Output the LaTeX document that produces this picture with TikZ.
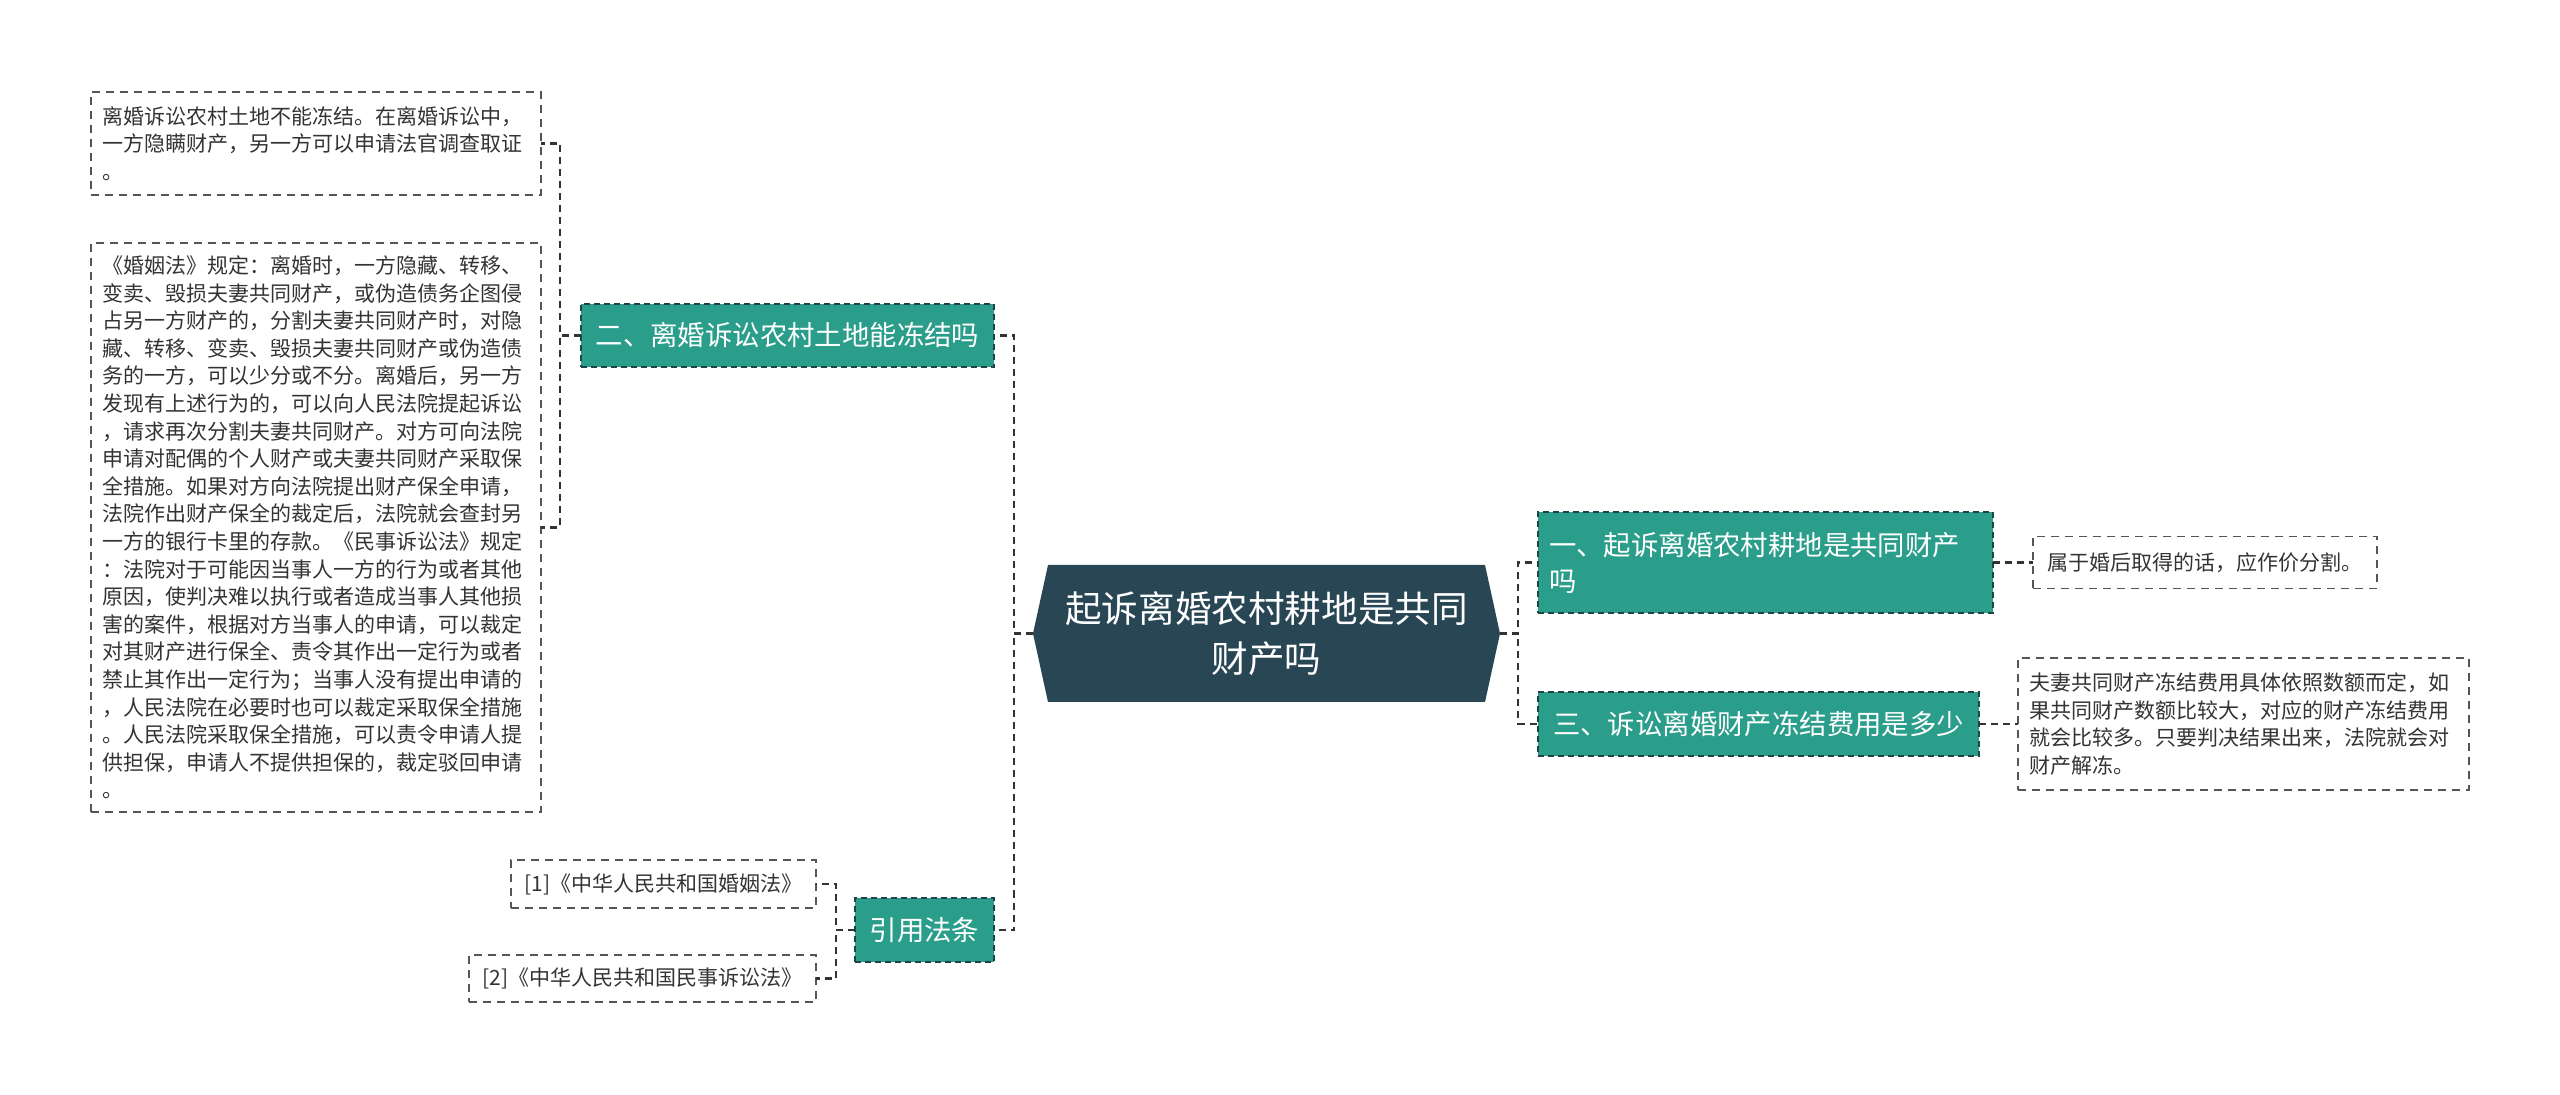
\documentclass[tikz,border=0pt]{standalone}
\usepackage{fontspec}
\setmainfont{Noto Sans CJK SC}
\definecolor{rootfill}{HTML}{284653}
\definecolor{topicfill}{HTML}{2B9D8B}
\definecolor{topicline}{HTML}{1E4448}
\definecolor{leafline}{HTML}{555555}
\definecolor{leaftext}{HTML}{333333}
\definecolor{linkcol}{HTML}{333333}
\begin{document}
\begin{tikzpicture}[x=0.5pt,y=-0.5pt,
  leaf/.style={draw=leafline,line width=0.7pt,dash pattern=on 4pt off 3pt,text=leaftext,
    inner xsep=5.5pt,inner ysep=0pt,outer sep=0pt,font=\fontsize{10.5pt}{13.8pt}\selectfont},
  topic/.style={fill=topicfill,draw=topicline,line width=0.7pt,dash pattern=on 3pt off 2pt,text=white,
    inner xsep=5.5pt,inner ysep=0pt,outer sep=0pt,font=\fontsize{13.7pt}{18pt}\selectfont},
  root/.style={text=white,align=center,inner sep=0pt,outer sep=0pt,
    minimum width=233.5pt,minimum height=68.5pt,font=\fontsize{18.3pt}{25pt}\selectfont},
  link/.style={draw=linkcol,line width=1.1pt,dash pattern=on 3.5pt off 2.5pt}]
  \useasboundingbox (0,0) rectangle (2560,1095);
  % centre
  \fill[rootfill] (1033,633.5) -- (1048,565) -- (1485,565) -- (1500,633.5) -- (1485,702) -- (1048,702) -- cycle;
  \node[root] (root) at (1266.5,633.5) {起诉离婚农村耕地是共同\\财产吗};
  % left side
  \node[topic,minimum width=206.5pt,minimum height=31.5pt] (law2) at (787.5,335.5) {二、离婚诉讼农村土地能冻结吗};
  \node[leaf,text width=214pt,minimum height=51.5pt,align=left] (law2a) at (316,143.5)
    {离婚诉讼农村土地不能冻结。在离婚诉讼中，\\一方隐瞒财产，另一方可以申请法官调查取证\\。};
  \node[leaf,text width=214pt,minimum height=284.5pt,align=left] (law2b) at (316,527.5)
    {《婚姻法》规定：离婚时，一方隐藏、转移、\\变卖、毁损夫妻共同财产，或伪造债务企图侵\\占另一方财产的，分割夫妻共同财产时，对隐\\藏、转移、变卖、毁损夫妻共同财产或伪造债\\务的一方，可以少分或不分。离婚后，另一方\\发现有上述行为的，可以向人民法院提起诉讼\\，请求再次分割夫妻共同财产。对方可向法院\\申请对配偶的个人财产或夫妻共同财产采取保\\全措施。如果对方向法院提出财产保全申请，\\法院作出财产保全的裁定后，法院就会查封另\\一方的银行卡里的存款。《民事诉讼法》规定\\：法院对于可能因当事人一方的行为或者其他\\原因，使判决难以执行或者造成当事人其他损\\害的案件，根据对方当事人的申请，可以裁定\\对其财产进行保全、责令其作出一定行为或者\\禁止其作出一定行为；当事人没有提出申请的\\，人民法院在必要时也可以裁定采取保全措施\\。人民法院采取保全措施，可以责令申请人提\\供担保，申请人不提供担保的，裁定驳回申请\\。};
  \node[topic,minimum width=69.5pt,minimum height=32pt] (cite) at (924.5,930) {引用法条};
  \node[leaf,minimum width=152.5pt,minimum height=24pt] (cite1) at (663.5,884) {[1]《中华人民共和国婚姻法》};
  \node[leaf,minimum width=173.5pt,minimum height=23.5pt] (cite2) at (642.5,978.5) {[2]《中华人民共和国民事诉讼法》};
  % right side
  \node[topic,text width=216.5pt,minimum height=50.5pt,align=left] (law1) at (1765.5,562.5)
    {一、起诉离婚农村耕地是共同财产\\吗};
  \node[leaf,minimum width=172pt,minimum height=26pt] (law1a) at (2205,562.5) {属于婚后取得的话，应作价分割。};
  \node[topic,minimum width=220.5pt,minimum height=32pt] (law3) at (1758.5,724) {三、诉讼离婚财产冻结费用是多少};
  \node[leaf,text width=214.5pt,minimum height=66pt,align=left] (law3a) at (2243.5,724)
    {夫妻共同财产冻结费用具体依照数额而定，如\\果共同财产数额比较大，对应的财产冻结费用\\就会比较多。只要判决结果出来，法院就会对\\财产解冻。};
  % connectors
  \draw[link] (root.west) -- ++(-19,0) |- (law2.east);
  \draw[link] (root.west) -- ++(-19,0) |- (cite.east);
  \draw[link] (law2.west) -- ++(-21,0) |- (law2a.east);
  \draw[link] (law2.west) -- ++(-21,0) |- (law2b.east);
  \draw[link] (cite.west) -- ++(-19,0) |- (cite1.east);
  \draw[link] (cite.west) -- ++(-19,0) |- (cite2.east);
  \draw[link] (root.east) -- ++(18,0) |- (law1.west);
  \draw[link] (root.east) -- ++(18,0) |- (law3.west);
  \draw[link] (law1.east) -- (law1a.west);
  \draw[link] (law3.east) -- (law3a.west);
\end{tikzpicture}
\end{document}
